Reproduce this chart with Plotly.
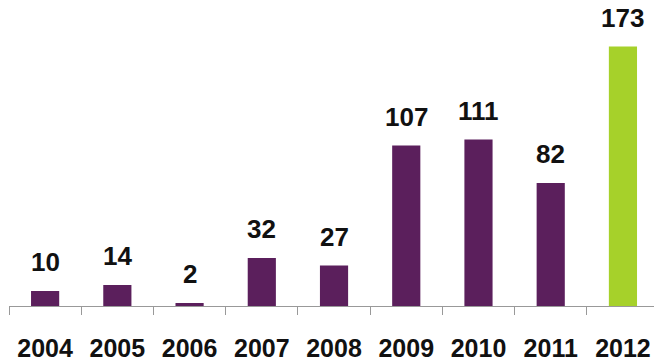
import plotly.graph_objects as go

years = ["2004", "2005", "2006", "2007", "2008", "2009", "2010", "2011", "2012"]
values = [10, 14, 2, 32, 27, 107, 111, 82, 173]
colors = ["#5B1F5C"] * 8 + ["#A6D12A"]

fig = go.Figure()
fig.add_trace(go.Bar(x=years, y=values, marker=dict(color=colors, line=dict(width=0)),
                     width=0.39, hoverinfo="skip"))

for i, v in enumerate(values):
    fig.add_annotation(x=i, y=v, xref="x", yref="y", text=str(v), showarrow=False,
                       yanchor="bottom", yshift=12,
                       font=dict(family="Liberation Sans, Arial", size=26, color="#111111", weight="bold"))

fig.update_layout(
    width=654, height=361,
    margin=dict(l=9, r=0, t=0, b=55),
    paper_bgcolor="white", plot_bgcolor="white",
    showlegend=False,
    font=dict(family="Liberation Sans, Arial"),
)
fig.update_xaxes(
    type="category", range=[-0.5, 8.43],
    showline=True, linecolor="#999999", linewidth=1,
    ticks="outside", tickson="boundaries", ticklen=8, tickcolor="#999999",
    tickfont=dict(family="Liberation Sans, Arial", size=25, color="#111111", weight="bold"),
    ticklabelstandoff=20, showgrid=False,
)
fig.update_yaxes(range=[0, 204], visible=False, showgrid=False)

fig.write_html("out.html")
